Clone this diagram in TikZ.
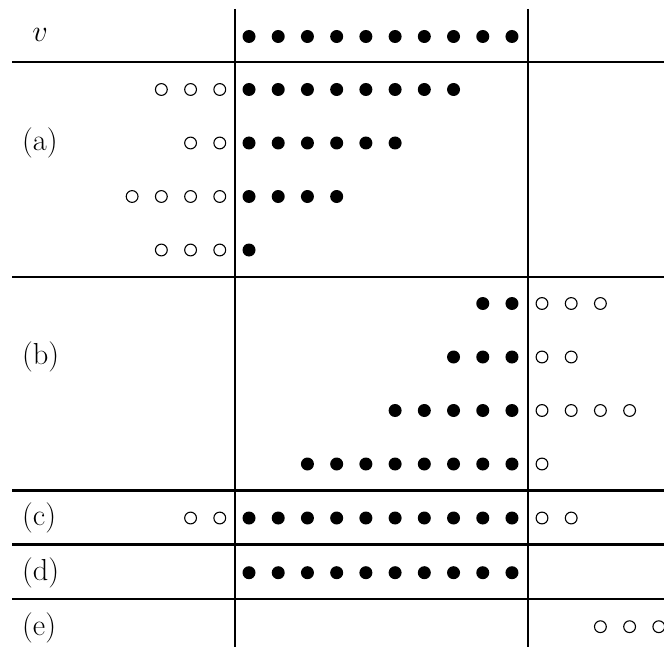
\RequirePackage{fix-cm}
\documentclass[tikz,border=0pt]{standalone}
\usepackage{fontspec}
\begin{document}
\begin{tikzpicture}[x=1bp,y=-1bp,
  full/.style={circle,fill=black,inner sep=0pt,minimum size=13bp},
  hollow/.style={circle,draw=black,line width=1.1bp,inner sep=0pt,minimum size=11.8bp},
  rule/.style={line width=2.1bp},
  thickrule/.style={line width=3.1bp},
  lab/.style={anchor=west,inner sep=0pt,font=\fontsize{30.5}{32}\selectfont}]
\useasboundingbox (0,0) rectangle (664,647);
% frame coordinates
\coordinate (vlT) at (235,9);   \coordinate (vlB) at (235,647);
\coordinate (vrT) at (527.7,9); \coordinate (vrB) at (527.7,647);
\foreach \n/\y in {h1/62.3,h2/276.7,h3/490.5,h4/544.5,h5/599}{
  \coordinate (\n L) at (12,\y); \coordinate (\n R) at (664,\y);}
\draw[rule] (vlT) -- (vlB);
\draw[rule] (vrT) -- (vrB);
\draw[rule] (h1L) -- (h1R);
\draw[rule] (h2L) -- (h2R);
\draw[thickrule] (h3L) -- (h3R);
\draw[thickrule] (h4L) -- (h4R);
\draw[rule] (h5L) -- (h5R);
% labels
\node[inner sep=0pt,font=\fontsize{30.5}{32}\selectfont] (lv) at (40,35) {$v$};
\node[lab] (la) at (22,143) {(a)};
\node[lab] (lb) at (22,357) {(b)};
\node[lab] (lc) at (22,517.5) {(c)};
\node[lab] (ld) at (22,573) {(d)};
\node[lab] (le) at (22,628) {(e)};
% dots: full at x = 249+29.22k ; left hollow at 249-29.22j ; right hollow at 542+29.2j
\foreach \k in {0,...,9} \node[full] (v\k) at ({249+29.22*\k},36.5) {};
% (a)
\foreach \r/\y/\nl/\nf in {a1/89.5/3/7, a2/143/2/5, a3/196.5/4/3, a4/250/3/0}{
  \foreach \j in {1,...,\nl} \node[hollow] (\r l\j) at ({249-29.22*\j},\y) {};
  \foreach \k in {0,...,\nf} \node[full] (\r f\k) at ({249+29.22*\k},\y) {};
}
% (b)
\foreach \r/\y/\ns/\nr in {b1/303.5/8/2, b2/357/7/1, b3/410.5/5/3, b4/464/2/0}{
  \foreach \k in {\ns,...,9} \node[full] (\r f\k) at ({249+29.22*\k},\y) {};
  \foreach \j in {0,...,\nr} \node[hollow] (\r r\j) at ({542+29.2*\j},\y) {};
}
% (c)
\foreach \j in {1,2} \node[hollow] (cl\j) at ({249-29.22*\j},518) {};
\foreach \k in {0,...,9} \node[full] (cf\k) at ({249+29.22*\k},518) {};
\foreach \j in {0,1} \node[hollow] (cr\j) at ({542+29.2*\j},518) {};
% (d)
\foreach \k in {0,...,9} \node[full] (df\k) at ({249+29.22*\k},572.7) {};
% (e)
\foreach \j in {2,3,4} \node[hollow] (er\j) at ({542+29.2*\j},626.7) {};
\end{tikzpicture}
\end{document}
